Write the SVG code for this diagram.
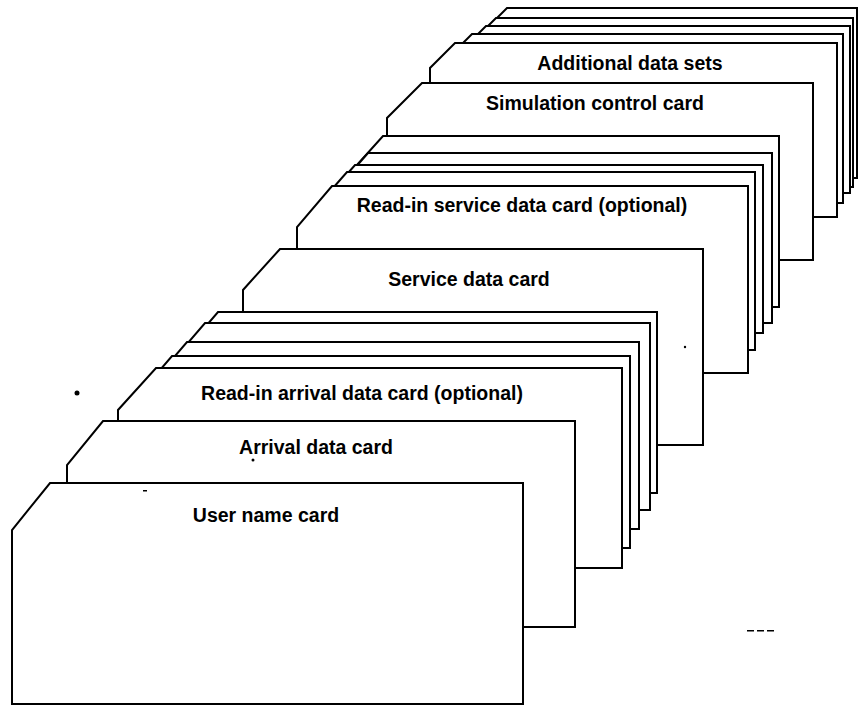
<svg xmlns="http://www.w3.org/2000/svg" width="862" height="707" viewBox="0 0 862 707">
  <style>
    .card { fill: #fff; stroke: #000; stroke-width: 2; stroke-linejoin: miter; }
    .label { font-family: "Liberation Sans", Arial, sans-serif; font-weight: bold; font-size: 19.5px; fill: #000; text-anchor: middle; }
    .speck { fill: #000; }
  </style>
  <rect width="862" height="707" fill="#fff"/>

  <!-- cards are painted back to front so each one hides the deck behind it -->
  <g id="deck-additional-4"><polygon class="card" points="470,178 470,45 507,8 857,8 857,178"/></g>
  <g id="deck-additional-3"><polygon class="card" points="462,187 462,52 496,18 853,18 853,187"/></g>
  <g id="deck-additional-2"><polygon class="card" points="452,193 452,60 486,26 850,26 850,193"/></g>
  <g id="deck-additional-1"><polygon class="card" points="440,203 440,66 472,34 843,34 843,203"/></g>
  <g id="additional-data-sets">
    <polygon class="card" points="430,217 430,68 455,43 837,43 837,217"/>
    <text class="label" x="630" y="70">Additional data sets</text>
  </g>
  <g id="simulation-control-card">
    <polygon class="card" points="387,260 387,118 422,83 813,83 813,260"/>
    <text class="label" x="595" y="110">Simulation control card</text>
  </g>

  <g id="service-deck-4"><polygon class="card" points="348,307 348,175 383,136 779,136 779,307"/></g>
  <g id="service-deck-3"><polygon class="card" points="333,323 333,193 368,153 772,153 772,323"/></g>
  <g id="service-deck-2"><polygon class="card" points="320,333 320,205 355,165 763,165 763,333"/></g>
  <g id="service-deck-1"><polygon class="card" points="312,350 312,212 347,172 755,172 755,350"/></g>
  <g id="read-in-service-data-card">
    <polygon class="card" points="297,373 297,227 332,186 748,186 748,373"/>
    <text class="label" x="522" y="212">Read-in service data card (optional)</text>
  </g>
  <g id="service-data-card">
    <polygon class="card" points="243,445 243,290 280,249 703,249 703,445"/>
    <text class="label" x="469" y="286">Service data card</text>
  </g>

  <g id="arrival-deck-4"><polygon class="card" points="181,493 181,355 218,312 657,312 657,493"/></g>
  <g id="arrival-deck-3"><polygon class="card" points="168,510 168,366 205,323 650,323 650,510"/></g>
  <g id="arrival-deck-2"><polygon class="card" points="150,529 150,385 187,342 639,342 639,529"/></g>
  <g id="arrival-deck-1"><polygon class="card" points="135,548 135,399 172,356 630,356 630,548"/></g>
  <g id="read-in-arrival-data-card">
    <polygon class="card" points="118,568 118,410 156,368 622,368 622,568"/>
    <text class="label" x="362" y="400">Read-in arrival data card (optional)</text>
  </g>
  <g id="arrival-data-card">
    <polygon class="card" points="67,627 67,465 103,421 575,421 575,627"/>
    <text class="label" x="316" y="454">Arrival data card</text>
  </g>
  <g id="user-name-card">
    <polygon class="card" points="12,704 12,530 50,483 523,483 523,704"/>
    <text class="label" x="266" y="522">User name card</text>
  </g>

  <!-- stray print marks -->
  <g id="specks">
    <circle class="speck" cx="77" cy="393" r="2.5"/>
    <circle class="speck" cx="253" cy="460" r="1.5"/>
    <circle class="speck" cx="685" cy="347" r="1.2"/>
    <rect class="speck" x="143" y="490" width="4" height="1.5"/>
    <rect class="speck" x="747" y="630" width="7" height="1.5"/>
    <rect class="speck" x="757" y="630" width="7" height="1.5"/>
    <rect class="speck" x="767" y="630" width="7" height="1.5"/>
  </g>
</svg>
